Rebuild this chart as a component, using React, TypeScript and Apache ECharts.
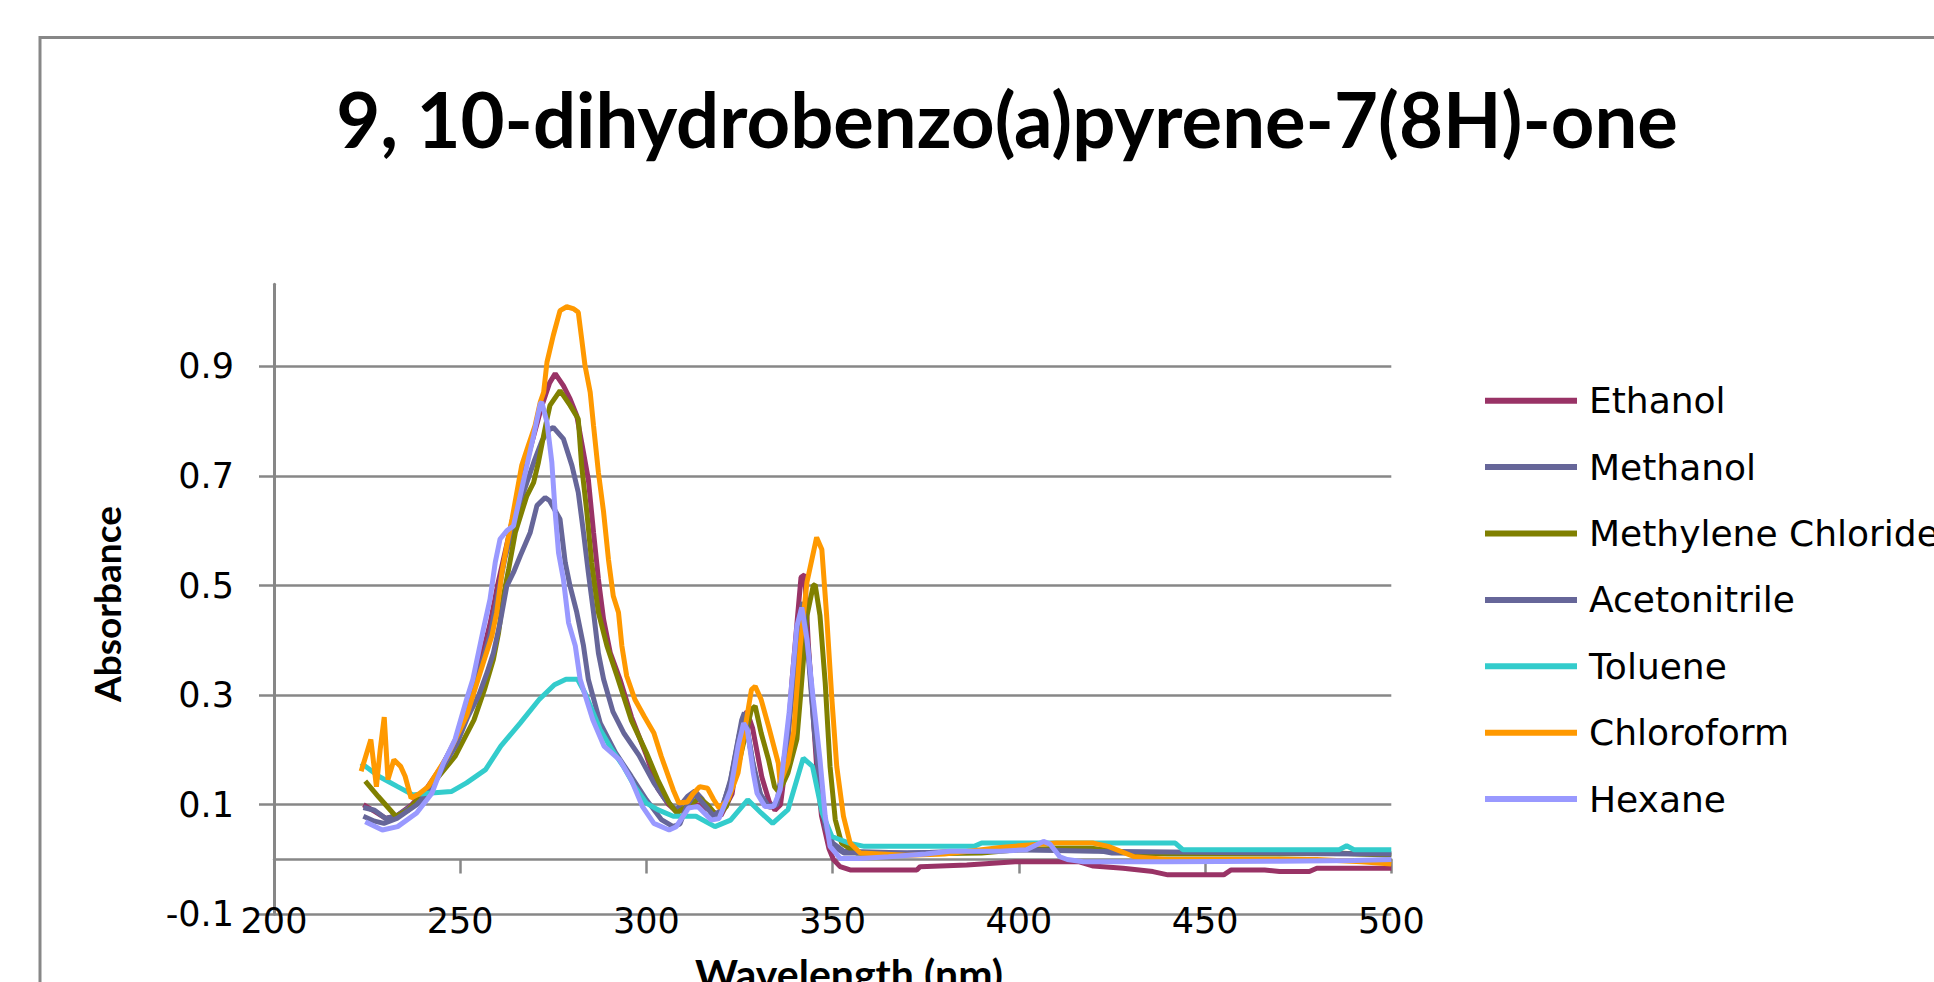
import React, { useEffect, useRef } from "react";
import * as echarts from "echarts";

const chartTitle = "9, 10-dihydrobenzo(a)pyrene-7(8H)-one";
const xAxisTitle = "Wavelength (nm)";
const yAxisTitle = "Absorbance";

const seriesNames = [
  "Ethanol",
  "Methanol",
  "Methylene Chloride",
  "Acetonitrile",
  "Toluene",
  "Chloroform",
  "Hexane",
];
const seriesColors = ["#993366", "#666699", "#808000", "#666699", "#33CCCC", "#FF9900", "#9999FF"];

const yTickValues = [-0.1, 0.1, 0.3, 0.5, 0.7, 0.9];

// [wavelength nm, absorbance]
const ethanol = [
  [224, 0.10], [227, 0.088], [230, 0.075], [233, 0.08], [237, 0.10], [241, 0.13], [245, 0.17], [249, 0.22],
  [252, 0.28], [255, 0.35], [258, 0.43], [260, 0.50], [262, 0.56], [264, 0.62], [266, 0.68], [268, 0.73],
  [270, 0.78], [272, 0.83], [274, 0.87], [275.5, 0.887], [277.7, 0.865], [279.5, 0.841], [281.3, 0.81],
  [283.1, 0.743], [284.4, 0.694], [285.8, 0.597], [287.1, 0.512], [288.5, 0.438], [290.3, 0.377],
  [292.9, 0.329], [296, 0.26], [300, 0.19], [303, 0.13], [306, 0.10], [308, 0.088], [311, 0.095],
  [314, 0.10], [317, 0.09], [320, 0.08], [323, 0.12], [326, 0.26], [327, 0.27], [328.5, 0.24], [331, 0.15],
  [333, 0.105], [334.5, 0.09], [336, 0.10], [337.7, 0.19], [339, 0.32], [340.4, 0.43], [341.5, 0.515],
  [342.5, 0.52], [343.5, 0.39], [344.5, 0.29], [345.7, 0.17], [347, 0.08], [349, 0.02], [350.2, 0.0],
  [352, -0.013], [354.7, -0.019], [372.6, -0.019], [373.5, -0.013], [386, -0.01], [399, -0.004],
  [416, -0.004], [420, -0.012], [428, -0.016], [436, -0.022], [440, -0.028], [455, -0.028], [457, -0.019],
  [466, -0.019], [470, -0.022], [478, -0.022], [480, -0.016], [500, -0.016],
];

const methanol = [
  [224, 0.095], [227, 0.09], [230, 0.075], [233, 0.08], [238.3, 0.103], [242.4, 0.133], [245.5, 0.176],
  [249, 0.22], [252, 0.28], [255, 0.34], [258, 0.41], [260, 0.48], [262, 0.55], [264, 0.60], [266, 0.65],
  [268, 0.69], [270, 0.73], [272, 0.765], [274, 0.785], [275, 0.789], [277.7, 0.768], [280, 0.719],
  [281.7, 0.67], [283.1, 0.597], [284.4, 0.524], [285.8, 0.451], [287.1, 0.377], [288.5, 0.329],
  [291, 0.27], [294, 0.23], [298, 0.19], [302, 0.14], [305, 0.11], [308, 0.09], [311, 0.115], [313, 0.125],
  [315, 0.11], [317.9, 0.079], [320, 0.085], [322.6, 0.146], [325.6, 0.255], [326.3, 0.268], [328.7, 0.17],
  [330.8, 0.115], [332.8, 0.097], [335, 0.103], [337.5, 0.207], [339.5, 0.33], [341, 0.44], [342, 0.47],
  [343.5, 0.38], [345, 0.26], [346.5, 0.15], [348, 0.07], [350, 0.03], [353, 0.015], [370, 0.012],
  [390, 0.015], [400, 0.018], [420, 0.018], [425, 0.012], [500, 0.01],
];

const methyleneChloride = [
  [224.5, 0.143], [228, 0.115], [232.7, 0.079], [236, 0.09], [240, 0.12], [243.5, 0.146], [248.6, 0.188],
  [253.7, 0.255], [256.5, 0.31], [258.9, 0.365], [260.3, 0.414], [261.6, 0.481], [263, 0.53], [264.8, 0.597],
  [266.5, 0.634], [267.9, 0.664], [269.7, 0.688], [271, 0.725], [272.4, 0.774], [273.3, 0.804],
  [274.1, 0.829], [276.8, 0.856], [279.5, 0.829], [281.7, 0.804], [282.6, 0.719], [284, 0.634],
  [285.3, 0.542], [287.1, 0.451], [289.4, 0.39], [292.1, 0.335], [295.9, 0.255], [300, 0.195], [303, 0.146],
  [306.1, 0.103], [308.2, 0.085], [309.5, 0.091], [314.3, 0.112], [316.4, 0.10], [319, 0.079],
  [321.5, 0.097], [324.6, 0.17], [328.2, 0.274], [329.2, 0.28], [330.8, 0.231], [332.8, 0.182],
  [334.4, 0.133], [335.4, 0.124], [336.8, 0.14], [338, 0.158], [340.4, 0.22], [341.3, 0.292],
  [343.1, 0.445], [344.8, 0.50], [345.3, 0.502], [346.6, 0.445], [348, 0.323], [349.3, 0.17],
  [350.7, 0.073], [352.4, 0.03], [356.4, 0.012], [370, 0.01], [390, 0.012], [400, 0.018], [410, 0.02],
  [420, 0.02], [430, 0.012], [440, 0.01], [470, 0.01], [485, 0.012], [500, 0.008],
];

const acetonitrile = [
  [224, 0.079], [227, 0.07], [229.5, 0.066], [233, 0.075], [238.3, 0.10], [242.4, 0.13], [245.5, 0.17],
  [249, 0.21], [252, 0.26], [255, 0.30], [257.2, 0.341], [258.9, 0.377], [260.7, 0.432], [262.5, 0.499],
  [264.3, 0.524], [266.1, 0.554], [268.8, 0.597], [270.6, 0.646], [272.8, 0.661], [274, 0.655],
  [276.8, 0.621], [278.2, 0.542], [279.5, 0.499], [281.3, 0.451], [283.1, 0.39], [284.4, 0.329],
  [287.6, 0.249], [291.7, 0.195], [295.9, 0.152], [300, 0.109], [304, 0.073], [307.2, 0.06], [309, 0.065],
  [311, 0.10], [313, 0.12], [315.5, 0.10], [318, 0.08], [320, 0.09], [322.5, 0.14], [325, 0.23],
  [326.5, 0.26], [328.5, 0.18], [330.5, 0.12], [333, 0.095], [335, 0.10], [337.5, 0.19], [339.5, 0.33],
  [341.3, 0.44], [342.3, 0.45], [343.5, 0.37], [345, 0.24], [346.5, 0.14], [348, 0.06], [350, 0.025],
  [353, 0.012], [370, 0.012], [390, 0.015], [400, 0.018], [420, 0.015], [500, 0.01],
];

const toluene = [
  [223.4, 0.176], [228.1, 0.152], [233.2, 0.133], [237.3, 0.118], [241.4, 0.121], [247.6, 0.124],
  [251.7, 0.14], [256.8, 0.164], [260.9, 0.207], [266.1, 0.249], [271.2, 0.292], [275.3, 0.319],
  [278.4, 0.329], [281.5, 0.329], [283.5, 0.304], [287.6, 0.237], [290.7, 0.201], [293.8, 0.17],
  [296.9, 0.133], [300, 0.103], [303, 0.091], [307.2, 0.079], [313.3, 0.079], [318.4, 0.06], [322.6, 0.072],
  [327.2, 0.109], [330.8, 0.085], [333.9, 0.066], [338, 0.091], [342.1, 0.185], [344.6, 0.17],
  [347.2, 0.085], [349.8, 0.042], [354.4, 0.03], [358.5, 0.024], [388, 0.024], [390, 0.03], [442, 0.03],
  [444, 0.018], [486, 0.018], [488, 0.025], [490, 0.018], [500, 0.018],
];

const chloroform = [
  [223.4, 0.161], [226, 0.219], [227.5, 0.133], [228.5, 0.20], [229.6, 0.26], [230.6, 0.146], [232.2, 0.182],
  [234, 0.17], [235.2, 0.152], [236.8, 0.112], [239, 0.12], [241.4, 0.133], [246.5, 0.188], [251.7, 0.262],
  [254.8, 0.329], [256.2, 0.359], [258.5, 0.408], [259.8, 0.451], [261.2, 0.524], [262.5, 0.573],
  [263.9, 0.621], [265.2, 0.67], [266.5, 0.719], [268.3, 0.756], [270.1, 0.792], [271.5, 0.835],
  [272.4, 0.853], [273.3, 0.908], [275, 0.957], [276.8, 1.002], [278.6, 1.009], [280.5, 1.005],
  [281.7, 0.999], [282.6, 0.951], [283.5, 0.902], [284.9, 0.853], [285.8, 0.792], [287.1, 0.707],
  [288.5, 0.634], [289.8, 0.548], [291.1, 0.481], [292.5, 0.451], [293.4, 0.39], [294.7, 0.335],
  [296.9, 0.292], [299.5, 0.26], [302, 0.231], [304, 0.188], [307.2, 0.127], [308.7, 0.103], [311, 0.105],
  [312.5, 0.12], [314.3, 0.133], [316.4, 0.13], [318, 0.11], [319.5, 0.094], [322, 0.11], [324.6, 0.158],
  [326.7, 0.249], [328.2, 0.31], [329.2, 0.316], [330.8, 0.292], [332.8, 0.243], [335.4, 0.176],
  [335.9, 0.14], [338, 0.177], [339.5, 0.231], [341.3, 0.39], [343.1, 0.506], [345.7, 0.588],
  [347.1, 0.566], [348.4, 0.444], [349.8, 0.292], [351.1, 0.17], [352.9, 0.079], [354.7, 0.03],
  [357.4, 0.012], [370, 0.008], [380, 0.01], [390, 0.018], [395, 0.022], [400, 0.025], [410, 0.03],
  [420, 0.03], [424, 0.024], [431, 0.005], [440, 0.0], [460, 0.0], [480, 0.0], [492, -0.004], [500, -0.008],
];

const hexane = [
  [224.5, 0.069], [229.1, 0.054], [233.2, 0.06], [238.3, 0.085], [242.4, 0.121], [245.5, 0.176],
  [248.6, 0.219], [251.7, 0.292], [253.4, 0.329], [256.2, 0.42], [258, 0.475], [259.4, 0.542],
  [260.7, 0.585], [262.5, 0.60], [264.3, 0.609], [266.1, 0.664], [267.9, 0.719], [269.7, 0.774],
  [271.5, 0.832], [271.9, 0.835], [273.3, 0.798], [274.6, 0.725], [275.5, 0.634], [276.4, 0.56],
  [277.7, 0.512], [279.1, 0.432], [280.9, 0.39], [282.2, 0.329], [285.6, 0.255], [288.6, 0.207],
  [292.8, 0.182], [295.9, 0.146], [298.9, 0.097], [302, 0.066], [306.1, 0.054], [308, 0.06], [311.3, 0.094],
  [313.8, 0.097], [317.4, 0.072], [319.5, 0.075], [322.6, 0.127], [324.6, 0.207], [326.1, 0.249],
  [327.1, 0.237], [328.7, 0.158], [329.7, 0.121], [331.8, 0.097], [334.2, 0.097], [335.9, 0.127],
  [338.3, 0.268], [340.4, 0.426], [341.7, 0.46], [343.1, 0.402], [344.8, 0.292], [346.6, 0.182],
  [348, 0.079], [349.3, 0.024], [352, 0.002], [357.4, 0.002], [365, 0.005], [375, 0.01], [381.5, 0.015],
  [395, 0.015], [402, 0.018], [406.6, 0.033], [408.4, 0.028], [411, 0.005], [413, 0.0], [417.3, -0.004],
  [440, -0.004], [470, -0.003], [490, -0.002], [500, 0.0],
];

const seriesData = [ethanol, methanol, methyleneChloride, acetonitrile, toluene, chloroform, hexane];

const GRAY = "#878787";
const TITLE_FONT = "Lato";
const TEXT_FONT = "DejaVu Sans";

export default function App() {
  const ref = useRef<HTMLDivElement>(null);

  useEffect(() => {
    if (!ref.current) return;
    const chart = echarts.init(ref.current, null, { renderer: "svg" });
    chart.setOption({
      animation: false,
      backgroundColor: "#ffffff",
      textStyle: { fontFamily: TEXT_FONT },
      grid: {
        left: 274,
        right: 542.7,
        top: 284.3,
        bottom: 67.7,
        containLabel: false,
        outerBoundsMode: "none",
      },
      xAxis: [
        {
          type: "value",
          min: 200,
          max: 500,
          interval: 50,
          position: "bottom",
          axisLine: { show: false, onZero: false },
          axisTick: { show: false },
          splitLine: { show: false },
          axisLabel: {
            color: "#000",
            fontFamily: TEXT_FONT,
            fontSize: 35,
            lineHeight: 37,
            margin: -12,
          },
        },
        {
          type: "value",
          min: 200,
          max: 500,
          interval: 50,
          position: "bottom",
          axisLine: { show: true, onZero: true, lineStyle: { color: GRAY, width: 2.5 } },
          axisTick: { show: true, length: 14, lineStyle: { color: GRAY, width: 2.5 } },
          axisLabel: { show: false },
          splitLine: { show: false },
        },
      ],
      yAxis: {
        type: "value",
        min: -0.1,
        max: 1.05,
        axisLine: { show: true, onZero: false, lineStyle: { color: GRAY, width: 3 } },
        axisTick: {
          show: true,
          length: 15,
          customValues: yTickValues,
          lineStyle: { color: GRAY, width: 2.5 },
        },
        axisLabel: {
          customValues: yTickValues,
          color: "#000",
          fontFamily: TEXT_FONT,
          fontSize: 35,
          margin: 40,
          formatter: (v: number) => String(Math.round(v * 10) / 10),
        },
        splitLine: { show: true, lineStyle: { color: GRAY, width: 2.5 } },
      },
      legend: {
        orient: "vertical",
        left: 1485,
        top: 380.7,
        padding: 0,
        itemWidth: 92,
        itemHeight: 6,
        itemGap: 26.4,
        icon: "rect",
        data: seriesNames,
        textStyle: {
          fontFamily: TEXT_FONT,
          fontSize: 36,
          lineHeight: 40,
          color: "#000",
          padding: [0, 0, 0, 7],
        },
      },
      graphic: [
        {
          type: "rect",
          silent: true,
          shape: { x: 40, y: 37.5, width: 2000, height: 1000 },
          style: { fill: "none", stroke: GRAY, lineWidth: 3 },
        },
        {
          type: "text",
          x: 1007,
          y: 118,
          style: {
            text: chartTitle,
            fontFamily: TITLE_FONT,
            fontWeight: "bold",
            fontSize: 76,
            fill: "#000",
            align: "center",
            verticalAlign: "middle",
          },
        },
        {
          type: "text",
          x: 106.5,
          y: 604,
          rotation: Math.PI / 2,
          style: {
            text: yAxisTitle,
            fontFamily: TITLE_FONT,
            fontWeight: "bold",
            fontSize: 37,
            fill: "#000",
            align: "center",
            verticalAlign: "middle",
          },
        },
        {
          type: "text",
          x: 849,
          y: 973.5,
          style: {
            text: xAxisTitle,
            fontFamily: TITLE_FONT,
            fontWeight: "bold",
            fontSize: 41,
            fill: "#000",
            align: "center",
            verticalAlign: "middle",
          },
        },
      ],
      series: seriesNames.map((name, i) => ({
        name,
        type: "line",
        xAxisIndex: 0,
        yAxisIndex: 0,
        data: seriesData[i],
        showSymbol: false,
        symbol: "none",
        smooth: false,
        lineStyle: { width: 5, color: seriesColors[i] },
        itemStyle: { color: seriesColors[i] },
      })),
    });
    return () => chart.dispose();
  }, []);

  return (
    <div
      ref={ref}
      style={{ position: "fixed", left: 0, top: 0, width: 1934, height: 982, background: "#fff" }}
    />
  );
}
